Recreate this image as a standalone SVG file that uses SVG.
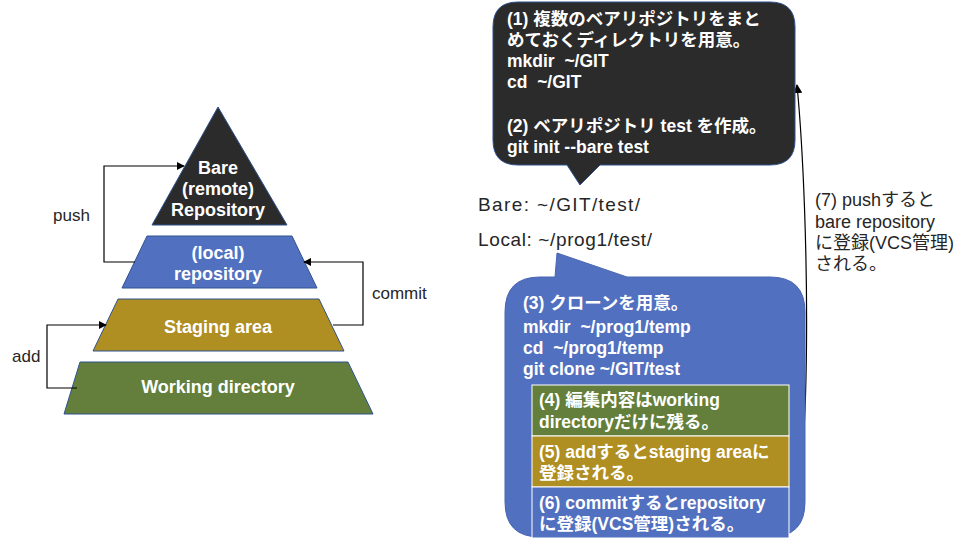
<svg xmlns="http://www.w3.org/2000/svg" width="965" height="545" viewBox="0 0 965 545">
<style>
.lbl{font-family:"Liberation Sans","Noto Sans CJK JP",sans-serif;font-size:17px;fill:#262626}
.lb2{font-family:"Liberation Sans","Noto Sans CJK JP",sans-serif;font-size:18px;fill:#262626}
.lb3{font-family:"Liberation Sans","Noto Sans CJK JP",sans-serif;font-size:19px;fill:#262626}
.pt{font-family:"Liberation Sans","Noto Sans CJK JP",sans-serif;font-size:18px;font-weight:bold;fill:#fff;text-anchor:middle}
.ct{font-family:"Liberation Sans","Noto Sans CJK JP",sans-serif;font-size:17.5px;font-weight:bold;fill:#fff;white-space:pre}
.cn{fill:none;stroke:#000;stroke-width:1.2}
</style>
<defs>
<marker id="ah" viewBox="0 0 10 10" refX="9" refY="5" markerWidth="8" markerHeight="8" orient="auto" markerUnits="userSpaceOnUse">
<path d="M0,0 L10,5 L0,10 z" fill="#000"/>
</marker>
<marker id="ah2" viewBox="0 0 10 10" refX="9" refY="5" markerWidth="9" markerHeight="9" orient="auto" markerUnits="userSpaceOnUse">
<path d="M0,0 L10,5 L0,10 z" fill="#000"/>
</marker>
</defs>
<rect width="965" height="545" fill="#fff"/>

<g id="bare">
<polygon points="218,107 287,225 152,225" fill="#2b2b2b" stroke="#2F528F" stroke-width="1"/>
<text class="pt" x="218" y="174">Bare</text>
<text class="pt" x="218" y="195">(remote)</text>
<text class="pt" x="218" y="216">Repository</text>
</g>
<g id="local">
<polygon points="147,236 292,236 317,288 122,288" fill="#5170C0" stroke="#2F528F" stroke-width="1"/>
<text class="pt" x="218" y="259">(local)</text>
<text class="pt" x="218" y="280">repository</text>
</g>
<g id="staging">
<polygon points="118,299 319,299 344,351 93,351" fill="#AF8E22" stroke="#2F528F" stroke-width="1"/>
<text class="pt" x="218" y="333">Staging area</text>
</g>
<g id="working">
<polygon points="80,362 348,362 373,414 64,414" fill="#637F3B" stroke="#2F528F" stroke-width="1"/>
<text class="pt" x="218" y="393">Working directory</text>
</g>

<g id="connectors">
<polyline class="cn" points="135,262 104,262 104,166 184,166" marker-end="url(#ah)"/>
<polyline class="cn" points="333,325 363,325 363,262 304,262" marker-end="url(#ah)"/>
<polyline class="cn" points="77,388 47,388 47,325 106,325" marker-end="url(#ah)"/>
<path class="cn" d="M789,512 C812,500 810,220 797,85" marker-end="url(#ah2)"/>
</g>
<text class="lbl" x="53" y="221">push</text>
<text class="lbl" x="372" y="299">commit</text>
<text class="lbl" x="12" y="362">add</text>

<g id="callout1">
<path d="M518,2 H770 Q795,2 795,27 V140 Q795,165 770,165 H600 L580,185 L567,165 H518 Q493,165 493,140 V27 Q493,2 518,2 Z" fill="#2b2b2b" stroke="#2F528F" stroke-width="1"/>
<text class="ct" x="507" y="25">(1) 複数のベアリポジトリをまと</text>
<text class="ct" x="507" y="46">めておくディレクトリを用意。</text>
<text class="ct" x="507" y="67" xml:space="preserve">mkdir  ~/GIT</text>
<text class="ct" x="507" y="88" xml:space="preserve">cd  ~/GIT</text>
<text class="ct" x="507" y="132">(2) ベアリポジトリ test を作成。</text>
<text class="ct" x="507" y="153">git init --bare test</text>
</g>

<text class="lb3" x="478" y="211" textLength="162">Bare: ~/GIT/test/</text>
<text class="lb3" x="478" y="246" textLength="174">Local: ~/prog1/test/</text>

<g id="callout2">
<path d="M540,277 H555 L557,253 L627,277 H770 Q805,277 805,312 V502 Q805,537 770,537 H540 Q505,537 505,502 V312 Q505,277 540,277 Z" fill="#5170C0" stroke="#4a66b0" stroke-width="1"/>
<text class="ct" x="523" y="309">(3) クローンを用意。</text>
<text class="ct" x="523" y="333" xml:space="preserve">mkdir  ~/prog1/temp</text>
<text class="ct" x="523" y="354" xml:space="preserve">cd  ~/prog1/temp</text>
<text class="ct" x="523" y="375">git clone ~/GIT/test</text>
</g>
<g id="step4">
<rect x="532" y="385" width="257" height="51" fill="#637F3B" stroke="#fff" stroke-width="1"/>
<text class="ct" x="539" y="406">(4) 編集内容はworking</text>
<text class="ct" x="539" y="428">directoryだけに残る。</text>
</g>
<g id="step5">
<rect x="532" y="436" width="257" height="51" fill="#AF8E22" stroke="#fff" stroke-width="1"/>
<text class="ct" x="539" y="458">(5) addするとstaging areaに</text>
<text class="ct" x="539" y="479">登録される。</text>
</g>
<g id="step6">
<rect x="532" y="487" width="257" height="51" fill="#5170C0" stroke="#fff" stroke-width="1"/>
<text class="ct" x="539" y="509">(6) commitするとrepository</text>
<text class="ct" x="539" y="530">に登録(VCS管理)される。</text>
</g>

<text class="lb2" x="815" y="206">(7) pushすると</text>
<text class="lb2" x="815" y="228">bare repository</text>
<text class="lb2" x="815" y="249">に登録(VCS管理)</text>
<text class="lb2" x="815" y="270">される。</text>
</svg>
